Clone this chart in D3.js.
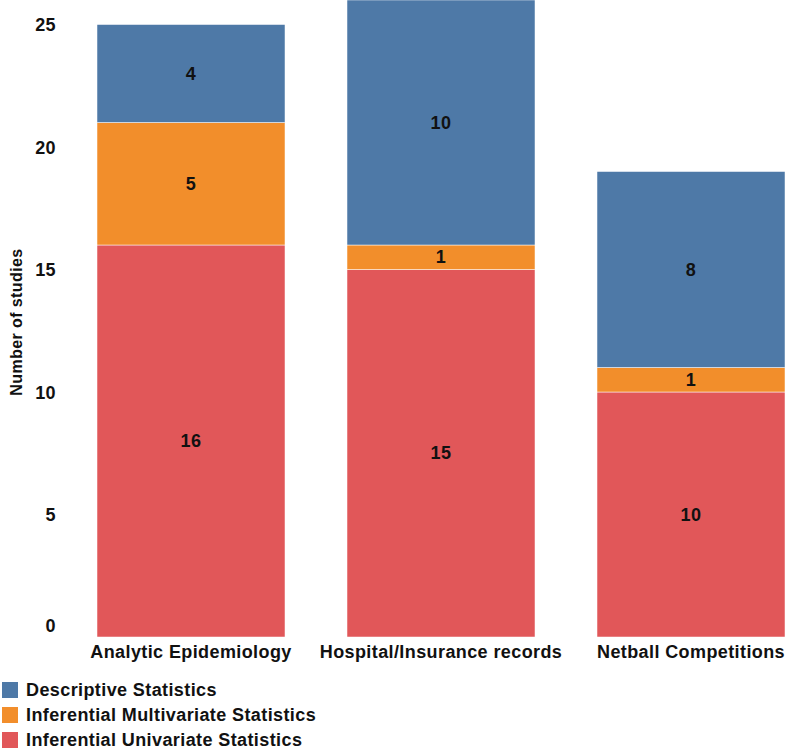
<!DOCTYPE html>
<html><head><meta charset="utf-8">
<script src="https://cdn.jsdelivr.net/npm/d3@7"></script>
<style>body{margin:0;background:#fff;} text{font-family:"Liberation Sans",Arial,sans-serif;font-weight:bold;fill:#111;letter-spacing:0.4px;}</style>
</head><body>
<svg id="c" width="786" height="750"></svg>
<script>
const categories = ["Analytic Epidemiology","Hospital/Insurance records","Netball Competitions"];
const seriesNames = ["Inferential Univariate Statistics","Inferential Multivariate Statistics","Descriptive Statistics"];
const univariate = [16,15,10];
const multivariate = [5,1,1];
const descriptive = [4,10,8];
const yTicks = [0,5,10,15,20,25];
const colors = {"Descriptive Statistics":"#4e79a7","Inferential Multivariate Statistics":"#f28e2b","Inferential Univariate Statistics":"#e15759"};
const legendOrder = ["Descriptive Statistics","Inferential Multivariate Statistics","Inferential Univariate Statistics"];

const rows = categories.map((c,i)=>({cat:c,"Inferential Univariate Statistics":univariate[i],"Inferential Multivariate Statistics":multivariate[i],"Descriptive Statistics":descriptive[i]}));
const svg = d3.select("#c");
const x = d3.scaleBand().domain(categories).range([66,816]).paddingInner(0.248).paddingOuter(0.124);
const y = d3.scaleLinear().domain([0,26]).range([637,0]);
const stack = d3.stack().keys(seriesNames)(rows);

const g = svg.append("g");
stack.forEach(layer=>{
  g.selectAll(null).data(layer).enter().append("rect")
    .attr("x",d=>x(d.data.cat)).attr("width",x.bandwidth())
    .attr("y",d=>y(d[1])).attr("height",d=>y(d[0])-y(d[1]))
    .attr("fill",colors[layer.key]).attr("stroke","#ffffff").attr("stroke-width",0.5);
  g.selectAll(null).data(layer).enter().append("text")
    .attr("x",d=>x(d.data.cat)+x.bandwidth()/2).attr("y",d=>(y(d[0])+y(d[1]))/2)
    .attr("text-anchor","middle").attr("dominant-baseline","central")
    .style("font-size","18px").text(d=>d[1]-d[0]);
});

const yAxis = d3.axisLeft(y).tickValues(yTicks).tickSize(0).tickPadding(0);
const ya = svg.append("g").attr("transform","translate(56,0)").call(yAxis);
ya.select(".domain").remove();
ya.selectAll("text").style("font-size","18px").attr("fill","#111").attr("dy","0.35em")
  .attr("transform",d=>d===0?"translate(0,-12)":null);

const xAxis = d3.axisBottom(x).tickSize(0).tickPadding(0);
const xa = svg.append("g").attr("transform","translate(0,652)").call(xAxis);
xa.select(".domain").remove();
xa.selectAll("text").style("font-size","18px").attr("fill","#111").attr("dy","0.35em").attr("y",0);

svg.append("text").attr("transform","translate(22,322) rotate(-90)").attr("text-anchor","middle")
  .style("font-size","16px").text("Number of studies");

const leg = svg.append("g").attr("transform","translate(2,682)");
legendOrder.forEach((k,i)=>{
  leg.append("rect").attr("x",0).attr("y",i*25).attr("width",16).attr("height",16).attr("fill",colors[k]);
  leg.append("text").attr("x",24).attr("y",i*25+8).attr("dominant-baseline","central").style("font-size","18px").text(k);
});
</script>
</body></html>
